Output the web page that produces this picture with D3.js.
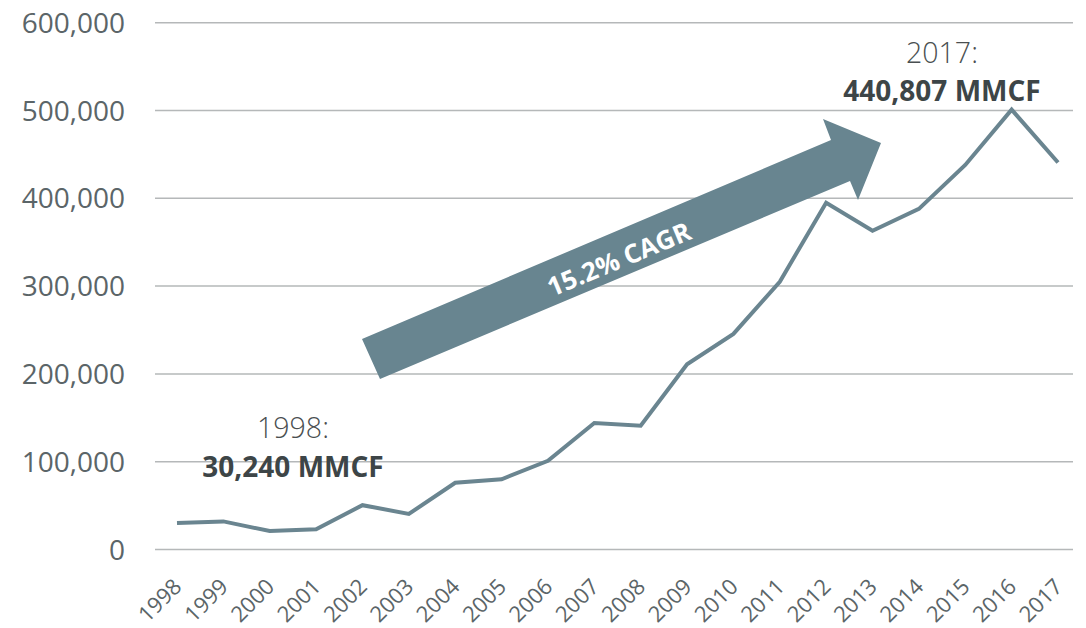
<!DOCTYPE html>
<html>
<head>
<meta charset="utf-8">
<script src="https://cdn.jsdelivr.net/npm/d3@7"></script>
<style>
  html, body { margin: 0; padding: 0; background: #ffffff; }
  svg { display: block; }
</style>
</head>
<body>
<svg id="chart" width="1086" height="628"></svg>
<script>
// ---- Data ----
const years = ["1998","1999","2000","2001","2002","2003","2004","2005","2006","2007",
               "2008","2009","2010","2011","2012","2013","2014","2015","2016","2017"];
const production = [30240, 32000, 21000, 23000, 50500, 40500, 76000, 80000, 101000, 144000,
                    141000, 211000, 245500, 305000, 395000, 363000, 388000, 438000, 501000, 440807];
const yTicks = [0, 100000, 200000, 300000, 400000, 500000, 600000];
const startLabel = ["1998:", "30,240 MMCF"];
const endLabel = ["2017:", "440,807 MMCF"];
const cagrLabel = "15.2% CAGR";

// ---- Layout ----
const svg = d3.select("#chart");
const gridLeft = 155, gridRight = 1073;
const x = d3.scalePoint().domain(years).range([177, 1058]);
const y = d3.scaleLinear().domain([0, 600000]).range([549.5, 22.7]);

const lineColor = "#6a8590";
const gridColor = "#b5b8b9";
const axisText = "#5b6568";

// grid lines
svg.append("g").selectAll("line").data(yTicks).join("line")
  .attr("x1", gridLeft).attr("x2", gridRight)
  .attr("y1", d => y(d)).attr("y2", d => y(d))
  .attr("stroke", gridColor).attr("stroke-width", 1.5);

// y labels
const fmt = d3.format(",");
svg.append("g").selectAll("text").data(yTicks).join("text")
  .attr("x", 125).attr("y", d => y(d))
  .attr("dy", "0.36em")
  .attr("text-anchor", "end")
  .attr("font-family", "'Open Sans', sans-serif")
  .attr("font-size", 28)
  .attr("fill", axisText)
  .text(d => fmt(d));

// x labels
svg.append("g").selectAll("text").data(years).join("text")
  .attr("transform", d => `translate(${x(d) + 6},588) rotate(-45)`)
  .attr("text-anchor", "end")
  .attr("font-family", "'Open Sans', sans-serif")
  .attr("font-size", 22)
  .attr("fill", axisText)
  .text(d => d);

// arrow (annotation shape)
const arrowPts = [[362,339],[831,140],[823,119],[881,143],[858,200],[850,181],[380,379]];
svg.append("path")
  .attr("d", d3.line()(arrowPts) + "Z")
  .attr("fill", "#688590");

svg.append("text")
  .attr("transform", "translate(619,259) rotate(-22.6)")
  .attr("text-anchor", "middle")
  .attr("dy", "0.36em")
  .attr("font-family", "'Open Sans', sans-serif")
  .attr("font-weight", 700)
  .attr("font-size", 26)
  .attr("fill", "#ffffff")
  .text(cagrLabel);

// data line
const line = d3.line()
  .x((d, i) => x(years[i]))
  .y(d => y(d));
svg.append("path")
  .datum(production)
  .attr("d", line)
  .attr("fill", "none")
  .attr("stroke", lineColor)
  .attr("stroke-width", 4)
  .attr("stroke-linejoin", "miter");

// annotations
function annot(lines, cx, y1, y2) {
  svg.append("text").attr("x", cx).attr("y", y1)
    .attr("text-anchor", "middle")
    .attr("font-family", "'Open Sans', sans-serif")
    .attr("font-weight", 300)
    .attr("font-size", 28.5)
    .attr("fill", "#4a4f51")
    .text(lines[0]);
  svg.append("text").attr("x", cx).attr("y", y2)
    .attr("text-anchor", "middle")
    .attr("font-family", "'Open Sans', sans-serif")
    .attr("font-weight", 700)
    .attr("font-size", 28)
    .attr("fill", "#3d4547")
    .text(lines[1]);
}
annot(startLabel, 293, 438, 477);
annot(endLabel, 942, 63, 101);
</script>
</body>
</html>
